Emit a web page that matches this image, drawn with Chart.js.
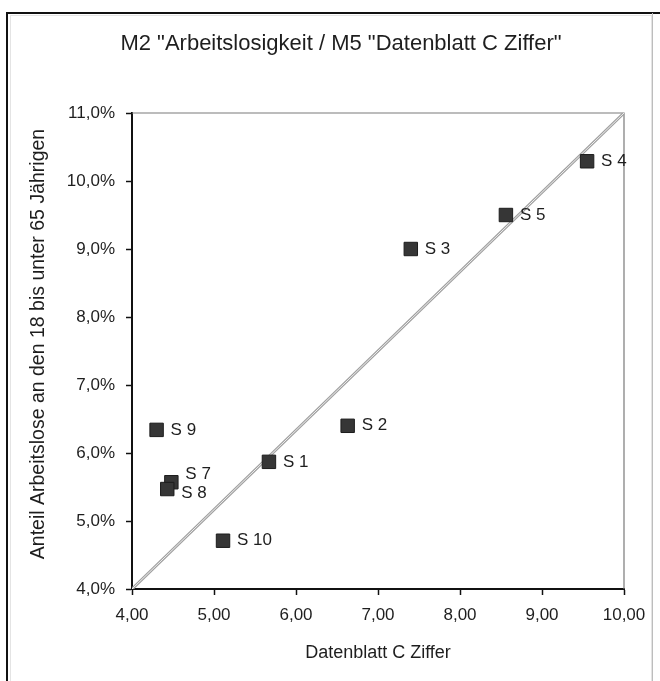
<!DOCTYPE html>
<html>
<head>
<meta charset="utf-8">
<script src="https://cdn.jsdelivr.net/npm/chart.js@4/dist/chart.umd.min.js"></script>
<style>
  html, body { margin: 0; padding: 0; background: #fff; }
  canvas { display: block; }
</style>
</head>
<body>
<canvas id="chart" width="660" height="681"></canvas>
<script>
// Stations and their values
const stations = ['S 1', 'S 2', 'S 3', 'S 4', 'S 5', 'S 7', 'S 8', 'S 9', 'S 10'];
const cipherValues = [5.67, 6.63, 7.40, 9.55, 8.56, 4.48, 4.43, 4.30, 5.11];       // Datenblatt C Ziffer
const unemploymentShare = [5.87, 6.40, 9.00, 10.29, 9.50, 5.57, 5.47, 6.34, 4.71]; // percent

// Reference diagonal
const diagonalX = [4, 10];
const diagonalY = [4, 11];

// Axis ticks
const xTicks = [4, 5, 6, 7, 8, 9, 10];
const yTicks = [4, 5, 6, 7, 8, 9, 10, 11];

// Texts
const chartTitle = 'M2 "Arbeitslosigkeit / M5 "Datenblatt C Ziffer"';
const yTitle = 'Anteil Arbeitslose an den 18 bis unter 65 Jährigen';
const xTitle = 'Datenblatt C Ziffer';

// Small pixel nudges for labels of overlapping points
const labelNudge = { 'S 7': [0, -8], 'S 8': [0, 4] };

const FONT = '"Liberation Sans", Arial, sans-serif';
const TEXT = '#1e1e1e';

const toXY = (xs, ys) => xs.map((x, i) => ({ x: x, y: ys[i] }));

// Outer frame, plot frame and the two titles that sit outside the scales
const frame = {
  id: 'frame',
  beforeDraw(chart) {
    const { ctx, width, height } = chart;
    ctx.save();
    ctx.fillStyle = '#fff';
    ctx.fillRect(0, 0, width, height);
    ctx.strokeStyle = '#e4e4e4';
    ctx.lineWidth = 1;
    ctx.strokeRect(10.5, 15.5, 641, height);
    ctx.strokeStyle = '#111';
    ctx.lineWidth = 2;
    ctx.beginPath();
    ctx.moveTo(7, height);
    ctx.lineTo(7, 13);
    ctx.lineTo(width, 13);
    ctx.stroke();
    ctx.strokeStyle = '#bdbdbd';
    ctx.lineWidth = 1;
    ctx.beginPath();
    ctx.moveTo(652.5, 13);
    ctx.lineTo(652.5, height);
    ctx.stroke();

    ctx.fillStyle = TEXT;
    ctx.textAlign = 'center';
    ctx.textBaseline = 'middle';
    ctx.font = '22px ' + FONT;
    ctx.fillText(chartTitle, 341, 44);

    ctx.translate(39, 344);
    ctx.rotate(-Math.PI / 2);
    ctx.font = '19.5px ' + FONT;
    ctx.fillText(yTitle, 0, 0);
    ctx.restore();
  },
  beforeDatasetsDraw(chart) {
    const { ctx, chartArea: a } = chart;
    ctx.save();
    ctx.strokeStyle = '#7a7a7a';
    ctx.lineWidth = 1.2;
    ctx.beginPath();
    ctx.moveTo(a.left, a.top);
    ctx.lineTo(a.right, a.top);
    ctx.lineTo(a.right, a.bottom);
    ctx.stroke();
    ctx.restore();
  }
};

const pointLabels = {
  id: 'pointLabels',
  afterDatasetsDraw(chart) {
    const { ctx } = chart;
    const meta = chart.getDatasetMeta(0);
    ctx.save();
    ctx.font = '17px ' + FONT;
    ctx.fillStyle = TEXT;
    ctx.textAlign = 'left';
    ctx.textBaseline = 'middle';
    meta.data.forEach((pt, i) => {
      const name = stations[i];
      const n = labelNudge[name] || [0, 0];
      ctx.fillText(name, pt.x + 14 + n[0], pt.y + n[1]);
    });
    ctx.restore();
  }
};

new Chart(document.getElementById('chart'), {
  type: 'scatter',
  data: {
    datasets: [
      {
        label: 'Stationen',
        data: toXY(cipherValues, unemploymentShare),
        pointStyle: 'rect',
        pointRadius: 9.5,
        backgroundColor: '#363636',
        borderColor: '#1c1c1c',
        borderWidth: 1,
        order: 0
      },
      {
        label: 'Diagonale',
        data: toXY(diagonalX, diagonalY),
        showLine: true,
        pointRadius: 0,
        borderColor: '#a0a0a0',
        borderWidth: 3,
        order: 2
      },
      {
        label: 'Diagonale innen',
        data: toXY(diagonalX, diagonalY),
        showLine: true,
        pointRadius: 0,
        borderColor: '#eeeeee',
        borderWidth: 1,
        order: 1
      }
    ]
  },
  options: {
    responsive: false,
    animation: false,
    events: [],
    layout: { padding: { left: 0, right: 36, top: 113, bottom: 0 } },
    plugins: {
      legend: { display: false },
      tooltip: { enabled: false },
      title: { display: false }
    },
    scales: {
      x: {
        type: 'linear',
        position: 'bottom',
        min: 4,
        max: 10,
        afterBuildTicks: s => { s.ticks = xTicks.map(v => ({ value: v })); },
        afterFit: s => { s.height = 92; },
        grid: { drawOnChartArea: false, tickLength: 6, tickColor: '#111', tickWidth: 1.5 },
        border: { color: '#111', width: 2 },
        ticks: {
          color: TEXT,
          font: { family: FONT, size: 17 },
          padding: 10,
          maxRotation: 0,
          callback: v => v.toFixed(2).replace('.', ',')
        },
        title: {
          display: true,
          text: xTitle,
          color: TEXT,
          font: { family: FONT, size: 18 },
          padding: { top: 4, bottom: 17 }
        }
      },
      y: {
        type: 'linear',
        position: 'left',
        min: 4,
        max: 11,
        afterBuildTicks: s => { s.ticks = yTicks.map(v => ({ value: v })); },
        afterFit: s => { s.width = 132; },
        grid: { drawOnChartArea: false, tickLength: 6, tickColor: '#111', tickWidth: 1.5 },
        border: { color: '#111', width: 2 },
        ticks: {
          color: TEXT,
          font: { family: FONT, size: 17 },
          padding: 11,
          callback: v => v.toFixed(1).replace('.', ',') + '%'
        }
      }
    }
  },
  plugins: [frame, pointLabels]
});
</script>
</body>
</html>
